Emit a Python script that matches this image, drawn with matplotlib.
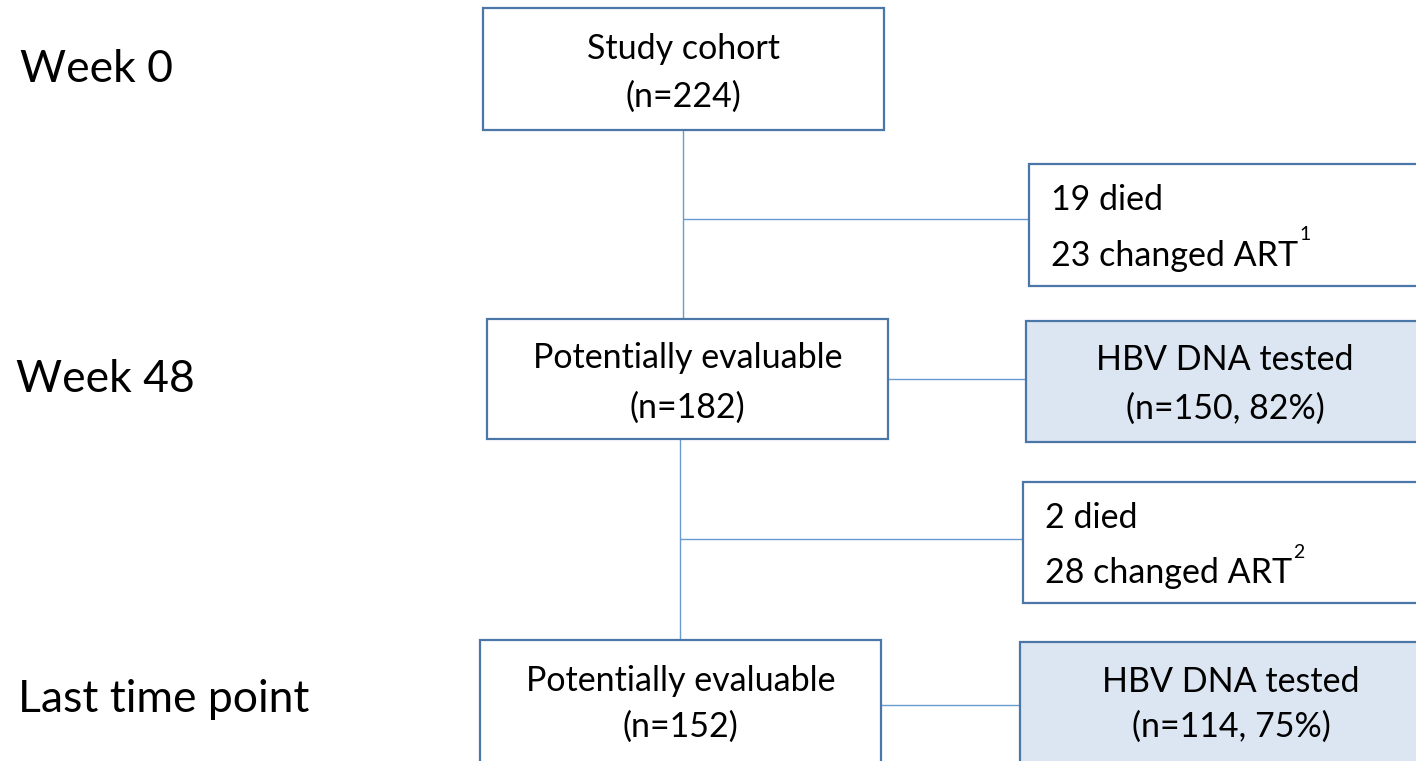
import matplotlib
matplotlib.use("Agg")
import matplotlib.pyplot as plt
from matplotlib.patches import Rectangle

plt.rcParams['font.family'] = ['Lato', 'DejaVu Sans']

W, H = 1416, 761
stage_labels = ["Week 0", "Week 48", "Last time point"]
main_titles = ["Study cohort", "Potentially evaluable", "Potentially evaluable"]
main_counts = [224, 182, 152]
excl_died = [19, 2]
excl_changed = [23, 28]
excl_notes = ["1", "2"]
tested_counts = [150, 114]
tested_pct = [82, 75]

EDGE = "#4a76a8"
LINE = "#6a9bd0"
FILL = "#dce6f2"

fig = plt.figure(figsize=(W / 100, H / 100), dpi=100)
ax = fig.add_axes([0, 0, 1, 1])
ax.set_xlim(0, W)
ax.set_ylim(H, 0)
ax.axis("off")

def box(x0, y0, x1, y1, fill="white"):
    ax.add_patch(Rectangle((x0, y0), x1 - x0, y1 - y0, facecolor=fill,
                           edgecolor=EDGE, linewidth=1.6, zorder=3))

def line(xs, ys):
    ax.plot(xs, ys, color=LINE, linewidth=1.0, zorder=1, solid_capstyle="butt")

FS = 24.5
LFS = 32
# stage labels
ax.text(20, 70, stage_labels[0], fontsize=LFS, va="center", ha="left")
ax.text(16, 380, stage_labels[1], fontsize=LFS, va="center", ha="left")
ax.text(18, 700, stage_labels[2], fontsize=LFS, va="center", ha="left")

# main boxes
main_boxes = [(483, 8, 884, 130), (487, 319, 888, 439), (480, 640, 881, 775)]
text_y = [(49, 97), (358, 408), (681, 727)]
for (x0, y0, x1, y1), t, n, (ya, yb) in zip(main_boxes, main_titles, main_counts, text_y):
    box(x0, y0, x1, y1)
    cx = (x0 + x1) / 2
    ax.text(cx, ya, t, fontsize=FS, ha="center", va="center", zorder=4)
    ax.text(cx, yb, f"(n={n})", fontsize=FS, ha="center", va="center", zorder=4)

# exclusion boxes
excl_boxes = [(1029, 164, 1430, 286), (1023, 482, 1430, 603)]
excl_text = [(1051, 200, 256), (1045, 518, 573)]
fig.canvas.draw()
renderer = fig.canvas.get_renderer()
for (x0, y0, x1, y1), d, c, note, (tx, ya, yb) in zip(excl_boxes, excl_died, excl_changed, excl_notes, excl_text):
    box(x0, y0, x1, y1)
    ax.text(tx, ya, f"{d} died", fontsize=FS, ha="left", va="center", zorder=4)
    t = ax.text(tx, yb, f"{c} changed ART", fontsize=FS, ha="left", va="center", zorder=4)
    bb = t.get_window_extent(renderer=renderer)
    xr = bb.x1 + 1
    ax.text(xr, yb - 21, note, fontsize=14, ha="left", va="center", zorder=4)

# tested boxes
test_boxes = [(1026, 321, 1430, 442), (1020, 642, 1430, 775)]
test_text = [(1225, 360, 409), (1231, 682, 727)]
for (x0, y0, x1, y1), n, p, (cx, ya, yb) in zip(test_boxes, tested_counts, tested_pct, test_text):
    box(x0, y0, x1, y1, fill=FILL)
    ax.text(cx, ya, "HBV DNA tested", fontsize=FS, ha="center", va="center", zorder=4)
    ax.text(cx, yb, f"(n={n}, {p}%)", fontsize=FS, ha="center", va="center", zorder=4)

# connectors
line([683, 683], [130, 319])
line([683, 1029], [219, 219])
line([888, 1026], [379, 379])
line([680, 680], [439, 640])
line([680, 1023], [539, 539])
line([881, 1020], [705, 705])

fig.savefig("out.png", dpi=100)
